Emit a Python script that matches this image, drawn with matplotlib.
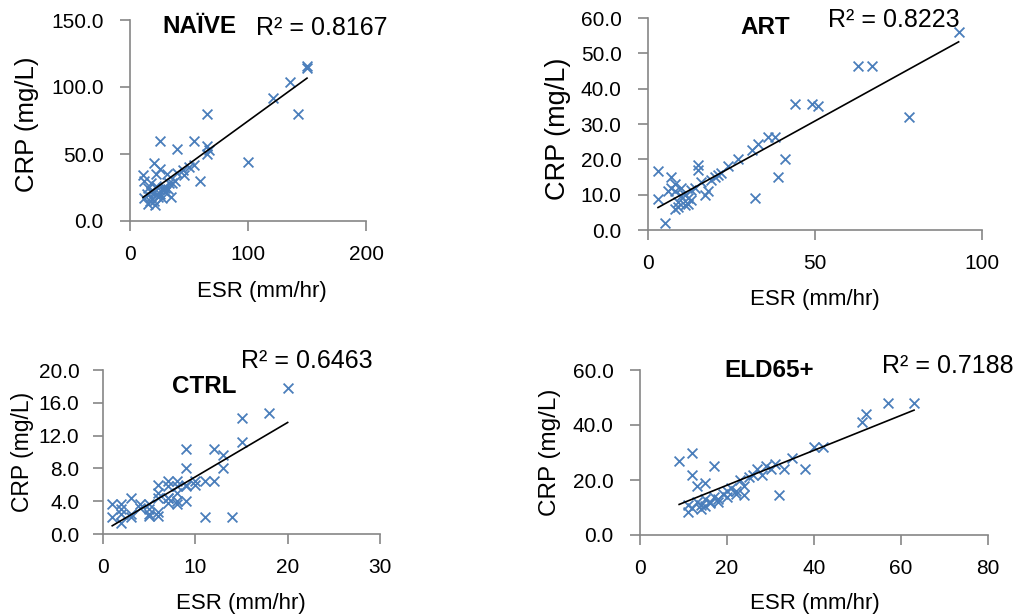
# -*- coding: utf-8 -*-
import matplotlib
matplotlib.use("Agg")
import matplotlib.pyplot as plt
import numpy as np

plt.rcParams['font.family'] = ['Liberation Sans', 'DejaVu Sans']

# ---- data ----
naive_esr = [150, 150, 136, 121, 142, 65, 25, 54, 40, 65, 67, 65, 100, 20, 25, 54, 11, 31, 59, 46,
             12, 15, 18, 20, 22, 25, 28, 30, 33, 35, 38, 15, 18, 20, 23, 27, 30, 32, 36, 40,
             14, 17, 21, 24, 45, 50, 12, 18, 22, 28]
naive_crp = [116, 114, 104, 92, 80, 80, 60, 60, 54, 56, 53, 50, 44, 43, 39, 42, 34, 35, 30, 34,
             30, 25, 28, 22, 35, 20, 25, 22, 28, 18, 30, 13, 18, 15, 20, 17, 25, 24, 28, 36,
             20, 15, 12, 18, 38, 40, 17, 22, 26, 23]

art_esr = [93, 63, 67, 44, 49, 51, 78, 36, 38, 33, 31, 41, 39, 32, 27, 24, 21, 19, 15, 15,
           16, 17, 13, 3, 3, 5, 7, 7, 8, 8, 10, 8, 9, 11, 12, 13, 18, 10, 9, 12,
           14, 20, 22, 6, 11]
art_crp = [56, 46.4, 46.4, 35.7, 35.7, 35, 32, 26.4, 26.4, 24.3, 22.7, 20, 15, 9, 20, 18, 15.6, 14.2, 18.4, 17,
           13.7, 10, 11.3, 16.7, 8.8, 2, 15, 12, 13, 11, 12, 6, 8, 7, 7.5, 8.5, 11, 9.5, 6.5, 9,
           12, 15, 16, 11, 10]

ctrl_esr = [20, 18, 15, 15, 12, 9, 13, 13, 9, 11, 14, 12, 11, 10, 1, 1, 2, 2, 2, 3,
            3, 4, 5, 5, 6, 6, 6, 7, 7, 8, 8, 8, 9, 9, 4, 5, 6, 7, 7, 8,
            8, 9, 6, 7, 2, 3, 5, 10]
ctrl_crp = [17.8, 14.8, 14.1, 11.2, 10.4, 10.4, 9.6, 8.1, 8.1, 2.1, 2.1, 6.5, 6.5, 6, 3.6, 2.1, 3.6, 2.5, 1.3, 2.1,
            4.4, 3.6, 3.0, 2.2, 2.2, 2.7, 4.4, 5.8, 4.4, 6.5, 5.0, 4.0, 5.8, 4.0, 3.2, 3.6, 6.0, 6.5, 4.4, 5.8,
            3.6, 6.0, 5.0, 3.8, 3.0, 2.5, 2.5, 6.5]

eld_esr = [63, 57, 52, 51, 42, 40, 38, 35, 33, 32, 31, 29, 27, 26, 25, 23, 24, 9, 12, 12,
           17, 15, 13, 11, 11, 12, 13, 14, 15, 16, 17, 18, 19, 20, 21, 22, 14, 15, 16, 18,
           20, 22, 24, 28, 30]
eld_crp = [48, 48, 44, 41, 32, 32, 24, 28, 24, 14.4, 26, 25, 24, 22, 21, 20, 14.4, 27, 30, 22,
           25, 19, 18, 8.5, 11, 10, 12, 11, 13, 12, 14, 13, 15, 16, 17, 15, 9.5, 10.5, 11.5, 12,
           14, 16, 18, 22, 24]

# linear trendlines (slope, intercept) and R² labels
trend = {"NAÏVE": (0.64, 10.6), "ART": (0.521, 4.8), "CTRL": (0.663, 0.34), "ELD65+": (0.635, 5.4)}
r2_labels = {"NAÏVE": "R² = 0.8167", "ART": "R² = 0.8223", "CTRL": "R² = 0.6463", "ELD65+": "R² = 0.7188"}

W, H = 1021, 615
fig = plt.figure(figsize=(W / 100, H / 100), dpi=100)

def px(x, y):
    return x / W, 1 - y / H

panels = [
    # name, esr, crp, axes box (px: left, top, right, bottom), xlim, xticks, ylim, yticks,
    # title baseline, R² baseline, x-label centre, y-label centre, y-label size, y tick pad
    ("NAÏVE", naive_esr, naive_crp, (130, 20, 366, 221), (0, 200), [0, 100, 200], (0, 150), [0, 50, 100, 150],
     (199, 33), (322, 35), (262, 291), (27, 124), 18.5, 12),
    ("ART", art_esr, art_crp, (648, 18, 982, 230), (0, 100), [0, 50, 100], (0, 60), np.arange(0, 61, 10),
     (765, 34), (894, 27), (815, 299), (558, 129), 19.5, 12),
    ("CTRL", ctrl_esr, ctrl_crp, (103, 370, 380, 534), (0, 30), [0, 10, 20, 30], (0, 20), np.arange(0, 21, 4),
     (204, 393), (307, 368), (241, 604), (22, 452), 16.5, 10),
    ("ELD65+", eld_esr, eld_crp, (640, 370, 988, 535), (0, 80), [0, 20, 40, 60, 80], (0, 60), [0, 20, 40, 60],
     (769, 377), (948, 373), (815, 604), (550, 452), 17.5, 12),
]

gray = "#868686"
for (name, esr, crp, (l, t, r, b), xlim, xticks, ylim, yticks,
     tpos, rpos, xlpos, ylpos, ylsize, ypad) in panels:
    ax = fig.add_axes([l / W, 1 - b / H, (r - l) / W, (b - t) / H])
    ax.scatter(esr, crp, marker="x", s=50, color="#4A7EBB", linewidths=1.3, zorder=3, clip_on=False)
    m, c = trend[name]
    xs = np.array([min(esr), max(esr)])
    ax.plot(xs, m * xs + c, color="black", lw=1.2, zorder=4)
    ax.set_xlim(*xlim)
    ax.set_ylim(*ylim)
    ax.set_xticks(xticks)
    ax.set_yticks(yticks)
    ax.set_yticklabels([f"{v:.1f}" for v in yticks])
    for s in ["top", "right"]:
        ax.spines[s].set_visible(False)
    for s in ["left", "bottom"]:
        ax.spines[s].set_color(gray)
        ax.spines[s].set_linewidth(1.2)
    ax.tick_params(colors=gray, labelcolor="black", labelsize=15, length=7, width=1.2)
    ax.tick_params(axis="y", pad=ypad)
    ax.tick_params(axis="x", pad=10)
    fig.text(*px(*xlpos), "ESR (mm/hr)", fontsize=16, ha="center", va="center")
    fig.text(*px(*ylpos), "CRP (mg/L)", fontsize=ylsize, ha="center", va="center", rotation=90)
    fig.text(*px(*tpos), name, fontsize=17.5, fontweight="bold", ha="center", va="baseline")
    fig.text(*px(*rpos), r2_labels[name], fontsize=18, ha="center", va="baseline")

fig.savefig("out.png", dpi=100)
